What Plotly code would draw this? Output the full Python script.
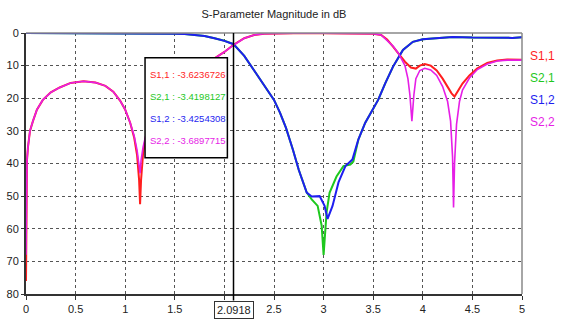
import plotly.graph_objects as go

# ---------------- data ----------------
f_s11 = [0, 0.005, 0.01, 0.02, 0.04, 0.07, 0.11, 0.17, 0.25, 0.34, 0.45, 0.58, 0.7, 0.8, 0.88, 0.95,
         1.0, 1.05, 1.09, 1.12, 1.14, 1.15, 1.16, 1.18, 1.21, 1.25, 1.3, 1.4, 1.5, 1.6, 1.7, 1.8, 1.9,
         2.0, 2.0918, 2.2, 2.3, 2.4, 2.5, 2.7, 3.0, 3.3, 3.5, 3.58, 3.64, 3.7, 3.76, 3.82, 3.88, 3.93,
         3.97, 4.02, 4.08, 4.14, 4.2, 4.25, 4.29, 4.32, 4.35, 4.4, 4.47, 4.55, 4.65, 4.75, 4.85, 5.0]
s11 = [-76, -45, -39, -35, -30, -27, -23.5, -20.5, -18.2, -16.7, -15.3, -14.8, -15.2, -16.2, -18, -20.8,
       -23.5, -27.5, -32, -37.5, -45, -52.5, -45, -37, -31.5, -28.5, -25, -19.5, -16, -13.3, -11.2, -9.5, -7.8,
       -5.8, -3.62, -1.6, -0.6, -0.2, -0.1, -0.05, -0.05, -0.1, -0.2, -0.6, -2, -4.2, -6.5, -8.8, -10.6, -10.9,
       -10, -9.5, -10, -11.5, -14, -16.5, -18.5, -19.5, -18, -15.5, -13, -10.8, -9.2, -8.4, -8.1, -8.2]

f_s22 = [0, 0.005, 0.01, 0.02, 0.04, 0.07, 0.11, 0.17, 0.25, 0.34, 0.45, 0.58, 0.7, 0.8, 0.88, 0.95,
         1.0, 1.05, 1.09, 1.12, 1.14, 1.15, 1.16, 1.18, 1.21, 1.25, 1.3, 1.4, 1.5, 1.6, 1.7, 1.8, 1.9,
         2.0, 2.0918, 2.2, 2.3, 2.4, 2.5, 2.7, 3.0, 3.3, 3.5, 3.58, 3.64, 3.7, 3.76, 3.82, 3.85, 3.87,
         3.89, 3.91, 3.93, 3.97, 4.02, 4.08, 4.14, 4.2, 4.25, 4.28, 4.3, 4.31, 4.32, 4.34, 4.37, 4.4,
         4.47, 4.55, 4.65, 4.75, 4.85, 5.0]
s22 = [-68, -45, -39, -35, -30, -27, -23.5, -20.5, -18.2, -16.7, -15.3, -14.8, -15.2, -16.2, -18, -20.8,
       -23.5, -27.5, -31.5, -36, -40, -43, -39, -35, -31, -28.5, -25, -19.5, -16, -13.3, -11.2, -9.5, -7.8,
       -5.8, -3.69, -1.6, -0.6, -0.2, -0.1, -0.05, -0.05, -0.1, -0.2, -0.6, -2.2, -4.0, -6.5, -10, -14, -19,
       -27, -19, -14, -11.5, -10.8, -11.3, -13, -16.4, -21, -27, -38, -53.5, -40, -28, -21, -17.5,
       -13.8, -11.2, -9.5, -8.6, -8.3, -8.3]

f_s21 = [0, 0.5, 1.0, 1.3, 1.5, 1.6, 1.7, 1.8, 1.9, 2.0, 2.0918, 2.2, 2.3, 2.4, 2.5, 2.56, 2.62, 2.69,
         2.75, 2.83, 2.88, 2.94, 2.98, 3.0, 3.03, 3.06, 3.13, 3.2, 3.27, 3.3, 3.35, 3.42, 3.55, 3.62,
         3.7, 3.8, 3.9, 4.0, 4.1, 4.3, 4.5, 4.7, 4.9, 5.0]
s21 = [0, -0.02, -0.05, -0.1, -0.2, -0.3, -0.5, -0.9, -1.6, -2.4, -3.42, -7, -11.5, -16, -20.5, -24.4, -29, -35.7,
       -42, -48.9, -51, -53, -59, -68, -55, -49, -44, -40.8, -40.3, -39.4, -32.7, -27.5, -20.5, -15.5,
       -10.3, -5.2, -2.7, -1.9, -1.6, -1.2, -1.4, -1.5, -1.5, -1.3]

f_s12 = [0, 0.5, 1.0, 1.3, 1.5, 1.6, 1.7, 1.8, 1.9, 2.0, 2.0918, 2.2, 2.3, 2.4, 2.5, 2.56, 2.62, 2.69,
         2.75, 2.83, 2.88, 2.96, 3.01, 3.04, 3.09, 3.15, 3.22, 3.29, 3.35, 3.42, 3.55, 3.62,
         3.7, 3.8, 3.9, 4.0, 4.1, 4.3, 4.5, 4.7, 4.9, 5.0]
s12 = [0, -0.02, -0.05, -0.1, -0.2, -0.3, -0.5, -0.9, -1.6, -2.4, -3.43, -7, -11.5, -16, -20.5, -24.4, -29, -35.7,
       -42, -48.9, -50.1, -50, -53, -57, -53, -45.8, -40.8, -38.8, -32.7, -27.5, -20.5, -15.5,
       -10.3, -5.2, -2.7, -1.9, -1.6, -1.2, -1.4, -1.5, -1.5, -1.3]

x_ticks = [0, 0.5, 1, 1.5, 2, 2.5, 3, 3.5, 4, 4.5, 5]
x_ticktext = ["0", "0.5", "1", "1.5", "", "2.5", "3", "3.5", "4", "4.5", "5"]  # "2" hidden under marker box
y_ticks = [0, -10, -20, -30, -40, -50, -60, -70, -80]
y_ticktext = ["0", "10", "20", "30", "40", "50", "60", "70", "80"]

marker_f = 2.0918
series_names = ["S1,1", "S2,1", "S1,2", "S2,2"]
marker_values = ["-3.6236726", "-3.4198127", "-3.4254308", "-3.6897715"]
colors = ["#ff1e1e", "#1ec81e", "#1e1ef0", "#e61ee6"]

FONT = "Liberation Sans, Arial, sans-serif"

fig = go.Figure()
for fx, fy, name, col, w in [(f_s11, s11, "S1,1", colors[0], 2),
                             (f_s21, s21, "S2,1", colors[1], 2),
                             (f_s12, s12, "S1,2", colors[2], 2),
                             (f_s22, s22, "S2,2", colors[3], 1.6)]:
    fig.add_trace(go.Scatter(x=fx, y=fy, mode="lines", name=name,
                             line=dict(color=col, width=w), showlegend=False))

# frame (top/right in gray)
fig.add_shape(type="line", xref="paper", yref="paper", x0=0, x1=1, y0=1, y1=1,
              line=dict(color="#888888", width=1.5))
fig.add_shape(type="line", xref="paper", yref="paper", x0=1, x1=1, y0=0, y1=1,
              line=dict(color="#888888", width=1.5))

# marker line
fig.add_shape(type="line", xref="x", yref="paper", x0=marker_f, x1=marker_f, y0=-0.025, y1=1,
              line=dict(color="black", width=1.5))
fig.add_annotation(x=marker_f, xref="x", y=0, yref="paper", yanchor="top", yshift=-7,
                   text="2.0918", showarrow=False, bgcolor="white", bordercolor="#333",
                   borderwidth=1, borderpad=2, font=dict(family=FONT, size=11, color="#222"))

# marker readout box
fig.add_shape(type="rect", xref="x", yref="y", x0=1.20, x1=2.03, y0=-7.6, y1=-38.2,
              fillcolor="white", line=dict(color="black", width=1.5), layer="above")
for i, (nm, val, col) in enumerate(zip(series_names, marker_values, colors)):
    fig.add_annotation(x=1.225, xref="x", y=-12.8 - 6.7 * i, yref="y", xanchor="left",
                       text=f"{nm} : {val}", showarrow=False,
                       font=dict(family=FONT, size=9.5, color=col))

# legend text at right
for i, (nm, col) in enumerate(zip(series_names, colors)):
    fig.add_annotation(x=1.012, xref="paper", y=1 - (47 + 22 * i - 33) / 262, yref="paper",
                       xanchor="left", text=nm, showarrow=False,
                       font=dict(family=FONT, size=12, color=col))

fig.update_layout(
    width=574, height=320,
    margin=dict(l=26, r=52, t=33, b=26),
    paper_bgcolor="white", plot_bgcolor="white",
    title=dict(text="S-Parameter Magnitude in dB", x=0.5, xref="paper", xanchor="center",
               y=1 - 14 / 320, yref="container", yanchor="middle",
               font=dict(family=FONT, size=11, color="#222")),
    font=dict(family=FONT, size=11, color="#222"),
)
fig.update_xaxes(range=[0, 5], tickvals=x_ticks, ticktext=x_ticktext, automargin=False,
                 showgrid=True, gridcolor="#555555", griddash="dot", gridwidth=1,
                 showline=True, linecolor="#333333", linewidth=2, ticks="outside", ticklen=4,
                 tickcolor="#333333", zeroline=False)
fig.update_yaxes(range=[-80, 0], tickvals=y_ticks, ticktext=y_ticktext, automargin=False,
                 showgrid=True, gridcolor="#555555", griddash="dot", gridwidth=1,
                 showline=True, linecolor="#333333", linewidth=2, ticks="outside", ticklen=3,
                 tickcolor="#333333", zeroline=False)

fig.write_html("out.html")
